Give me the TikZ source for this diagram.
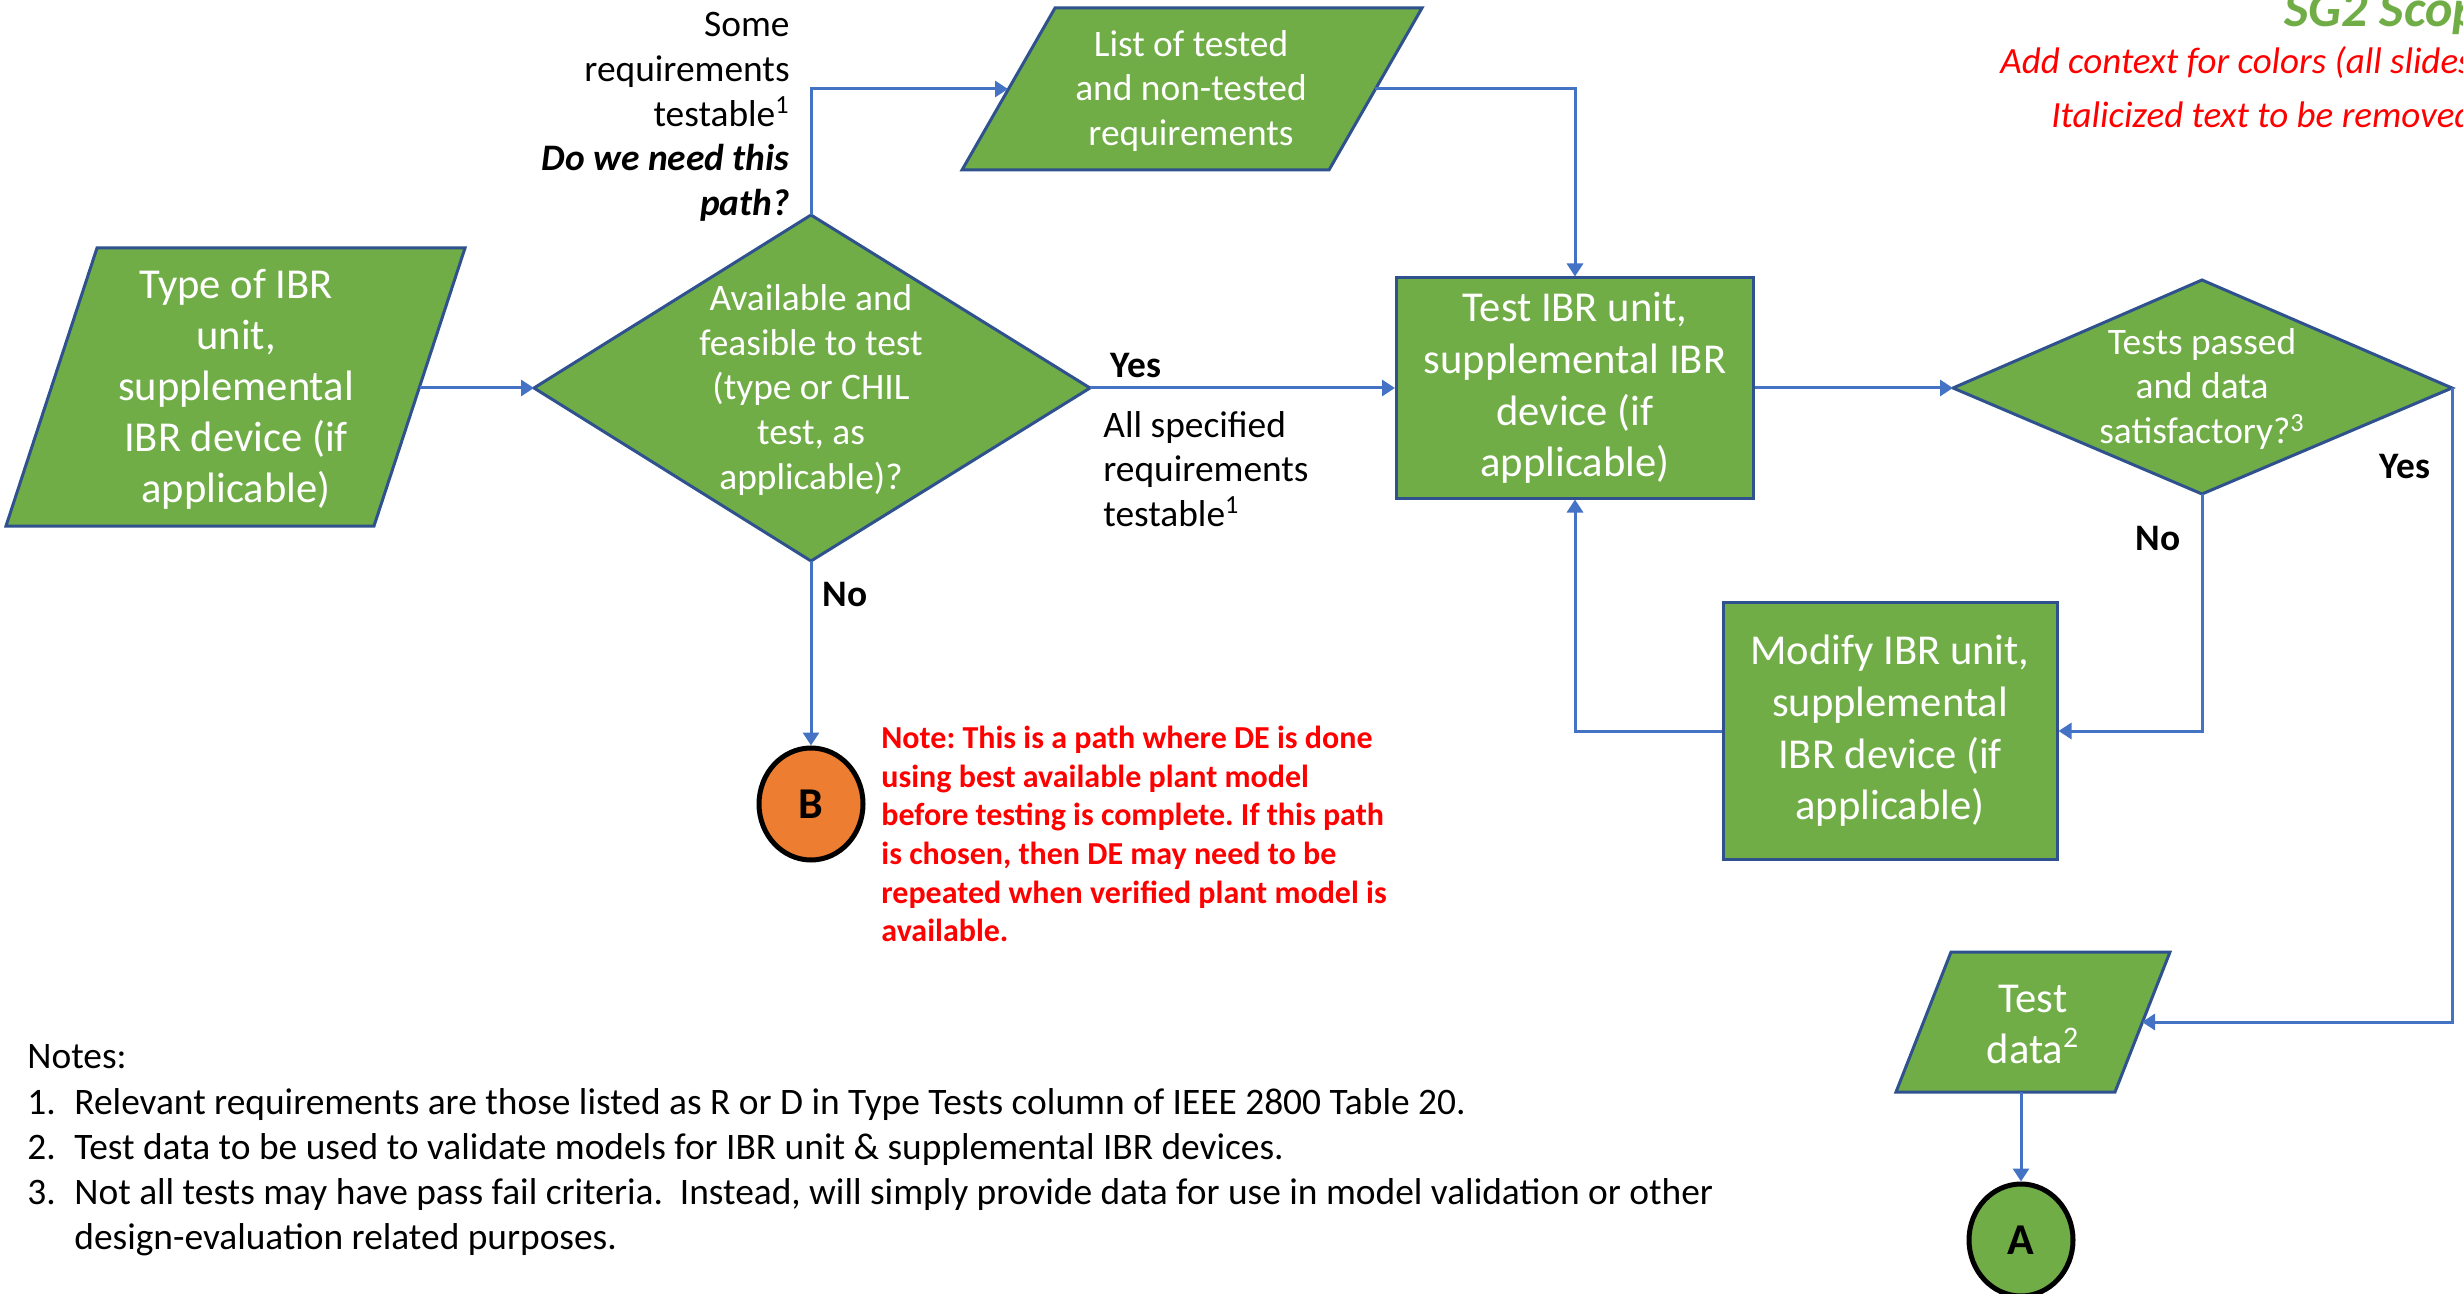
\documentclass[tikz,border=0pt]{standalone}
\usepackage{fontspec}
\setmainfont{Carlito}
\usetikzlibrary{arrows.meta,shapes.geometric}
\definecolor{fillgreen}{HTML}{70AD47}
\definecolor{edgeblue}{HTML}{2F528F}
\definecolor{arrowblue}{HTML}{4472C4}
\definecolor{fillorange}{HTML}{ED7D31}
\definecolor{notered}{HTML}{FF0000}
\frenchspacing
\begin{document}
\begin{tikzpicture}[x=0.5pt,y=-0.5pt,
  shapebox/.style={fill=fillgreen,draw=edgeblue,line width=1.5pt},
  rectbox/.style={shapebox,rectangle,inner sep=0pt,text=white,align=center,font=\fontsize{21.3}{25.8}\selectfont},
  flow/.style={draw=arrowblue,line width=1.5pt,-{Triangle[length=6.5pt,width=8pt]}},
  bigtext/.style={text=white,align=center,font=\fontsize{21.3}{25.5}\selectfont,inner sep=0pt},
  midtext/.style={text=white,align=center,font=\fontsize{18.7}{22.3}\selectfont,inner sep=0pt},
  lbl/.style={font=\fontsize{18.7}{22.3}\selectfont,inner sep=0pt},
  yesno/.style={font=\bfseries\fontsize{18.7}{22}\selectfont,inner sep=0pt},
  conn/.style={ellipse,draw=black,line width=2.5pt,minimum width=52pt,minimum height=56pt,inner sep=0pt,font=\bfseries\fontsize{22}{26}\selectfont}
]
\useasboundingbox (0,0) rectangle (2463,1294);
\clip (0,0) rectangle (2463,1294);

% Type of IBR unit (parallelogram)
\draw[shapebox] (97,248) -- (465,248) -- (374,526) -- (6,526) -- cycle;
\node[bigtext] (typeibr) at (236,389) {Type of IBR\\unit,\\supplemental\\IBR device (if\\applicable)};
\coordinate (typeR) at (420,388);

% Decision 1
\draw[shapebox] (534,388) -- (811,215) -- (1090,388) -- (811,561) -- cycle;
\coordinate (d1L) at (534,388);
\coordinate (d1T) at (811,215);
\coordinate (d1R) at (1090,388);
\coordinate (d1B) at (811,561);
\node[midtext] (avail) at (811,390) {Available and\\feasible to test\\(type or CHIL\\test, as\\applicable)?};

% List of tested (parallelogram)
\draw[shapebox] (1055,8) -- (1422,8) -- (1329,170) -- (962,170) -- cycle;
\node[midtext] (list) at (1191,91) {List of tested\\and non-tested\\requirements};
\coordinate (listL) at (1008,89);
\coordinate (listR) at (1375,89);

% Test IBR unit
\node[rectbox,minimum width=178.5pt,minimum height=110pt] (test) at (1575,388) {Test IBR unit,\\supplemental IBR\\device (if\\applicable)};

% Decision 2
\draw[shapebox] (1953,388) -- (2202,280) -- (2452,388) -- (2202,494) -- cycle;
\coordinate (d2L) at (1953,388);
\coordinate (d2R) at (2452,388);
\coordinate (d2B) at (2202,494);
\node[midtext] (passed) at (2202,389) {Tests passed\\and data\\satisfactory?\textsuperscript{3}};

% Modify
\node[rectbox,minimum width=167pt,minimum height=128.5pt] (modify) at (1890,731) {Modify IBR unit,\\supplemental\\IBR device (if\\applicable)};

% Test data (parallelogram)
\draw[shapebox] (1951,952) -- (2170,952) -- (2115,1092) -- (1896,1092) -- cycle;
\node[bigtext] (testdata) at (2033,1024) {Test\\data\textsuperscript{2}};
\coordinate (tdR) at (2142,1022);
\coordinate (tdB) at (2021,1092);

% Connectors A and B
\node[conn,fill=fillgreen] (A) at (2021,1240) {A};
\node[conn,fill=fillorange] (B) at (811,804) {B};

% Flows
\draw[flow] (typeR) -- (d1L);
\draw[flow] (d1T) |- (listL);
\draw[flow] (listR) -| (test.north);
\draw[flow] (d1R) -- (test.west);
\draw[flow] (test.east) -- (d2L);
\draw[flow] (d2B) |- (modify.east);
\draw[flow] (modify.west) -| (test.south);
\draw[flow] (d2R) |- (tdR);
\draw[flow] (tdB) -- (A.north);
\draw[flow] (d1B) -- (B.north);

% Labels
\node[lbl,align=right,anchor=east] (some) at (790,117) {Some\\requirements\\testable\textsuperscript{1}\\\textbf{\textit{Do we need this}}\\\textbf{\textit{path?}}};
\node[yesno] (yes1) at (1136,366) {Yes};
\node[lbl,align=left,anchor=west] (allspec) at (1103,469) {All specified\\requirements\\testable\textsuperscript{1}};
\node[yesno] (no1) at (845,595) {No};
\node[yesno] (yes2) at (2405,467) {Yes};
\node[yesno] (no2) at (2158,539) {No};

% Red note
\node[anchor=west,align=left,inner sep=0pt,text=notered,font=\bfseries\fontsize{16}{19.35}\selectfont] (note) at (881,834) {Note: This is a path where DE is done\\using best available plant model\\before testing is complete. If this path\\is chosen, then DE may need to be\\repeated when verified plant model is\\available.};

% Notes
\begin{scope}[every node/.style={anchor=base west,inner sep=0pt,font=\fontsize{18.7}{22}\selectfont}]
\node (notes) at (27,1068) {Notes:};
\node (n1) at (27,1114) {1.};
\node (n1t) at (74,1114) {Relevant requirements are those listed as R or D in Type Tests column of IEEE 2800 Table 20.};
\node (n2) at (27,1159) {2.};
\node (n2t) at (74,1159) {Test data to be used to validate models for IBR unit \& supplemental IBR devices.};
\node (n3) at (27,1204) {3.};
\node (n3t) at (74,1204) {Not all tests may have pass fail criteria.\ \ Instead, will simply provide data for use in model validation or other};
\node (n3u) at (74,1249) {design-evaluation related purposes.};
\end{scope}

% Top right remarks
\node[anchor=base west,inner sep=0pt,text=fillgreen,font=\bfseries\itshape\fontsize{26}{30}\selectfont] (sg2) at (2284,27) {SG2 Scope};
\node[anchor=base west,inner sep=0pt,text=notered,font=\itshape\fontsize{18.5}{22}\selectfont] (ctx) at (2000,74) {Add context for colors (all slides)};
\node[anchor=base west,inner sep=0pt,text=notered,font=\itshape\fontsize{18.5}{22}\selectfont] (ital) at (2051,128) {Italicized text to be removed};
\end{tikzpicture}
\end{document}
